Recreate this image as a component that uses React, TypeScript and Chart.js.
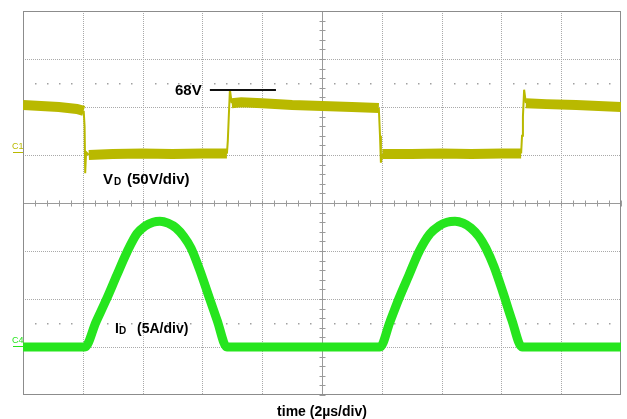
import React, { useEffect, useRef } from "react";
import { Chart, registerables } from "chart.js";

Chart.register(...registerables);

// ---- scope settings ----
const TIME_PER_DIV_US = 2; // time (2µs/div)
const VOLT_PER_DIV = 50; // V_D (50V/div)
const AMP_PER_DIV = 5; // I_D (5A/div)
const C1_GROUND_DIV = 5; // channel 1 ground marker (divisions from bottom)
const C4_GROUND_DIV = 1; // channel 4 ground marker

// ---- graticule ----
const xGridUs = [0, 2, 4, 6, 8, 10, 12, 14, 16, 18, 20];
const yGridDiv = [0, 1, 2, 3, 4, 5, 6, 7, 8];
const xCenterUs = 10;
const yCenterDiv = 4;
const dottedRowsDiv = [1.5, 6.5];

// ---- V_D trace (time µs, volts) ----
const vdTimeUs = [
  0, 0.6, 1.2, 1.8, 2.03, 2.06, 2.08, 2.11, 2.2, 3.0, 4.0, 5.0, 6.0, 6.82,
  6.85, 6.88, 6.92, 6.98, 7.3, 8.0, 9.0, 10.0, 11.0, 11.9, 11.94, 11.97, 12.02,
  13.0, 14.0, 15.0, 16.0, 16.66, 16.69, 16.72, 16.76, 16.82, 17.5, 18.5, 20,
];
const vdVolts = [
  52, 51, 50, 48, 46, 30, -19, 3, 0, 1, 1.5, 1, 1.5, 1.5,
  15, 38, 68, 54, 55, 54, 52, 51, 50, 49, 20, -8, 1,
  1, 1.5, 1, 1.5, 1.5, 20, 40, 68, 54, 53, 52, 50,
];

// ---- I_D trace (time µs, amps) ----
const idTimeUs = [
  0, 2.07, 2.44, 2.81, 3.14, 3.48, 3.81, 4.08, 4.35, 4.58, 4.85, 5.12, 5.38,
  5.62, 5.89, 6.19, 6.49, 6.82,
  11.94, 12.27, 12.58, 12.91, 13.24, 13.61, 13.91, 14.18, 14.45, 14.72, 14.98,
  15.25, 15.48, 15.75, 16.05, 16.35, 16.69, 20,
];
const idAmps = [
  0, 0, 2.6, 5.1, 7.5, 9.9, 11.8, 12.6, 13.0, 13.1, 12.9, 12.4, 11.5,
  10.3, 8.2, 5.5, 2.8, 0,
  0, 2.6, 5.1, 7.5, 9.9, 11.8, 12.6, 13.0, 13.1, 12.9, 12.4,
  11.5, 10.3, 8.4, 5.7, 2.8, 0, 0,
];

// ---- 68V marker ----
const markerVolts = 68;
const markerStartUs = 6.25;
const markerEndUs = 8.46;

const YELLOW = "#b9b900";
const GREEN = "#26e51e";
const FONT = '"Liberation Sans", Arial, sans-serif';

const scopePlugin = {
  id: "scopeGraticule",
  beforeDatasetsDraw(chart: any) {
    const { ctx, chartArea: a, scales } = chart;
    const x = scales.x;
    const y = scales.y;
    const px = (v: number) => Math.round(x.getPixelForValue(v)) + 0.5;
    const py = (v: number) => Math.round(y.getPixelForValue(v)) + 0.5;
    ctx.save();
    ctx.fillStyle = "#ffffff";
    ctx.fillRect(a.left, a.top, a.right - a.left, a.bottom - a.top);

    // dotted grid
    ctx.strokeStyle = "#a9a9a9";
    ctx.lineWidth = 1;
    ctx.setLineDash([1, 1]);
    for (const v of xGridUs) {
      if (v === xCenterUs || v === xGridUs[0] || v === xGridUs[xGridUs.length - 1]) continue;
      ctx.beginPath();
      ctx.moveTo(px(v), a.top);
      ctx.lineTo(px(v), a.bottom);
      ctx.stroke();
    }
    for (const v of yGridDiv) {
      if (v === yCenterDiv || v === yGridDiv[0] || v === yGridDiv[yGridDiv.length - 1]) continue;
      ctx.beginPath();
      ctx.moveTo(a.left, py(v));
      ctx.lineTo(a.right, py(v));
      ctx.stroke();
    }
    ctx.setLineDash([]);

    // center cross
    ctx.strokeStyle = "#9a9a9a";
    ctx.beginPath();
    ctx.moveTo(px(xCenterUs), a.top);
    ctx.lineTo(px(xCenterUs), a.bottom);
    ctx.moveTo(a.left, py(yCenterDiv));
    ctx.lineTo(a.right, py(yCenterDiv));
    ctx.stroke();

    // minor ticks on the center cross
    ctx.beginPath();
    const xMinor = TIME_PER_DIV_US / 5;
    for (let t = xGridUs[0]; t <= xGridUs[xGridUs.length - 1] + 1e-6; t += xMinor) {
      const X = px(t);
      ctx.moveTo(X, py(yCenterDiv) - 3);
      ctx.lineTo(X, py(yCenterDiv) + 3);
    }
    for (let d = yGridDiv[0]; d <= yGridDiv[yGridDiv.length - 1] + 1e-6; d += 0.2) {
      const Y = py(d);
      ctx.moveTo(px(xCenterUs) - 3, Y);
      ctx.lineTo(px(xCenterUs) + 3, Y);
    }
    ctx.stroke();

    // dotted reference rows
    ctx.fillStyle = "#a0a0a0";
    for (const r of dottedRowsDiv) {
      const Y = Math.round(y.getPixelForValue(r));
      for (let t = xGridUs[0]; t <= xGridUs[xGridUs.length - 1] + 1e-6; t += xMinor) {
        const k = Math.round(t / xMinor);
        if (k % 5 === 0) continue;
        ctx.fillRect(Math.round(x.getPixelForValue(t)), Y, 1.5, 1.5);
      }
    }

    // border
    ctx.strokeStyle = "#8c8c8c";
    ctx.strokeRect(a.left + 0.5, a.top + 0.5, a.right - a.left - 1, a.bottom - a.top - 1);
    ctx.restore();
  },
  afterDatasetsDraw(chart: any) {
    const { ctx, scales } = chart;
    const x = scales.x;
    const y = scales.y;
    const Y = Math.round(y.getPixelForValue(C1_GROUND_DIV + markerVolts / VOLT_PER_DIV));
    ctx.save();
    ctx.strokeStyle = "#111";
    ctx.lineWidth = 2;
    ctx.beginPath();
    ctx.moveTo(x.getPixelForValue(markerStartUs), Y);
    ctx.lineTo(x.getPixelForValue(markerEndUs), Y);
    ctx.stroke();
    ctx.restore();
  },
};

function Label(props: {
  left: number;
  baseline: number;
  size: number;
  text: string;
  color?: string;
  bold?: boolean;
  center?: boolean;
}) {
  const { left, baseline, size, text, color = "#000", bold = true, center = false } = props;
  return (
    <div
      style={{
        position: "absolute",
        left,
        top: baseline - 0.8465 * size,
        fontFamily: FONT,
        fontSize: size,
        fontWeight: bold ? 700 : 400,
        lineHeight: `${size}px`,
        color,
        whiteSpace: "pre",
        transform: center ? "translateX(-50%)" : undefined,
      }}
    >
      {text}
    </div>
  );
}

export default function App() {
  const canvasRef = useRef<HTMLCanvasElement | null>(null);

  useEffect(() => {
    const canvas = canvasRef.current;
    if (!canvas) return;
    const vdData = vdTimeUs.map((t, i) => ({ x: t, y: C1_GROUND_DIV + vdVolts[i] / VOLT_PER_DIV }));
    const idData = idTimeUs.map((t, i) => ({ x: t, y: C4_GROUND_DIV + idAmps[i] / AMP_PER_DIV }));
    const thinOnEdges = (w: number) => (ctx: any) =>
      Math.abs(ctx.p1.parsed.x - ctx.p0.parsed.x) < 0.1 ? 2 : w;

    const chart = new Chart(canvas, {
      type: "line",
      data: {
        datasets: [
          {
            label: "V_D",
            data: vdData,
            borderColor: YELLOW,
            borderWidth: 10,
            pointRadius: 0,
            tension: 0,
            segment: { borderWidth: thinOnEdges(10) },
          },
          {
            label: "I_D",
            data: idData,
            borderColor: GREEN,
            borderWidth: 9,
            pointRadius: 0,
            cubicInterpolationMode: "monotone",
          },
        ],
      },
      options: {
        animation: false,
        responsive: false,
        maintainAspectRatio: false,
        devicePixelRatio: 1,
        layout: { padding: { left: 23, top: 11, right: 6, bottom: 24 } },
        scales: {
          x: { type: "linear", min: 0, max: 20, display: false },
          y: { type: "linear", min: 0, max: 8, display: false },
        },
        plugins: { legend: { display: false }, tooltip: { enabled: false } },
      },
      plugins: [scopePlugin],
    } as any);
    return () => chart.destroy();
  }, []);

  return (
    <div style={{ position: "fixed", left: 0, top: 0, width: 627, height: 419, background: "#fff", overflow: "hidden" }}>
      <canvas ref={canvasRef} width={627} height={419} style={{ display: "block" }} />
      <Label left={175} baseline={95} size={15} text="68V" />
      <Label left={103} baseline={184} size={15} text="V" />
      <Label left={114} baseline={185} size={10} text="D" />
      <Label left={127} baseline={184} size={15} text="(50V/div)" />
      <Label left={115} baseline={333} size={14} text="I" />
      <Label left={119} baseline={334} size={10} text="D" />
      <Label left={137} baseline={333} size={14} text="(5A/div)" />
      <Label left={322} baseline={416} size={14} text="time (2µs/div)" center />
      <Label left={12} baseline={150} size={9} text="C1" color={YELLOW} bold={false} />
      <div style={{ position: "absolute", left: 13, top: 152, width: 10, height: 1, background: YELLOW }} />
      <Label left={12} baseline={344} size={9} text="C4" color={GREEN} bold={false} />
      <div style={{ position: "absolute", left: 13, top: 346, width: 10, height: 1, background: GREEN }} />
    </div>
  );
}
